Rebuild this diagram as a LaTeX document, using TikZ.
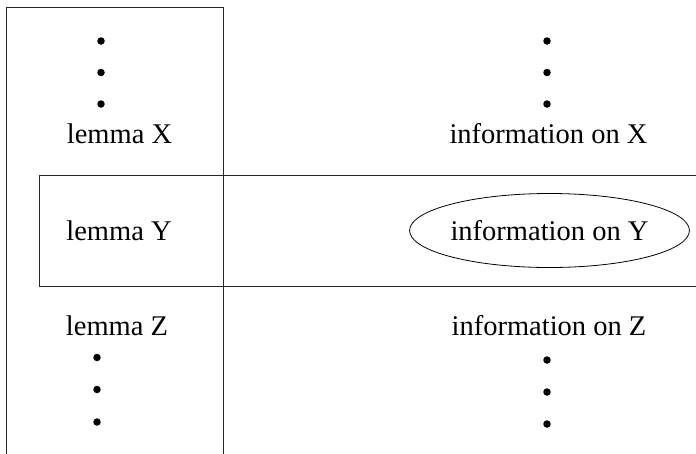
\documentclass[tikz,border=0pt]{standalone}
\usepackage{fontspec}
\setmainfont{Liberation Serif}
\usetikzlibrary{shapes.geometric}
\begin{document}
\begin{tikzpicture}[x=1pt,y=-1pt,
  lbl/.style={anchor=base,inner sep=0pt,font=\fontsize{28.5}{34}\selectfont},
  dot/.style={circle,fill=black,inner sep=0pt,minimum size=7.5pt},
  frame/.style={draw=black!85,line width=0.9pt}]
\useasboundingbox (0,0) rectangle (696,453);
% left column frame
\coordinate (lb) at (6.5,456);
\coordinate (lt) at (6.5,7);
\coordinate (rt) at (223,7);
\coordinate (rb) at (223,456);
\draw[frame] (lb) -- (lt) -- (rt) -- (rb);
% horizontal band
\coordinate (bt) at (700,175);
\coordinate (blt) at (39,175);
\coordinate (blb) at (39,286);
\coordinate (bb) at (700,286);
\draw[frame] (bt) -- (blt) -- (blb) -- (bb);
% top dots
\node[dot] (d1) at (101,41) {};
\node[dot] (d2) at (101,72.5) {};
\node[dot] (d3) at (101,104) {};
\node[dot] (e1) at (547,41) {};
\node[dot] (e2) at (547,72.5) {};
\node[dot] (e3) at (547,104) {};
% labels
\node[lbl] (lx) at (119.5,143) {lemma X};
\node[lbl] (ix) at (548.5,143) {information on X};
\node[lbl] (ly) at (119,240.5) {lemma Y};
\node[ellipse,draw=black,line width=0.8pt,inner sep=0pt,minimum width=273pt,minimum height=74pt,font=\fontsize{28.5}{34}\selectfont] (iy) at (549.5,230.5) {information on Y};
\node[lbl] (lz) at (117,335.5) {lemma Z};
\node[lbl] (iz) at (549,335.5) {information on Z};
% bottom dots
\node[dot] (f1) at (97,357.5) {};
\node[dot] (f2) at (97,389.5) {};
\node[dot] (f3) at (97,422) {};
\node[dot] (g1) at (547,360) {};
\node[dot] (g2) at (547,392) {};
\node[dot] (g3) at (547,424) {};
\end{tikzpicture}
\end{document}
